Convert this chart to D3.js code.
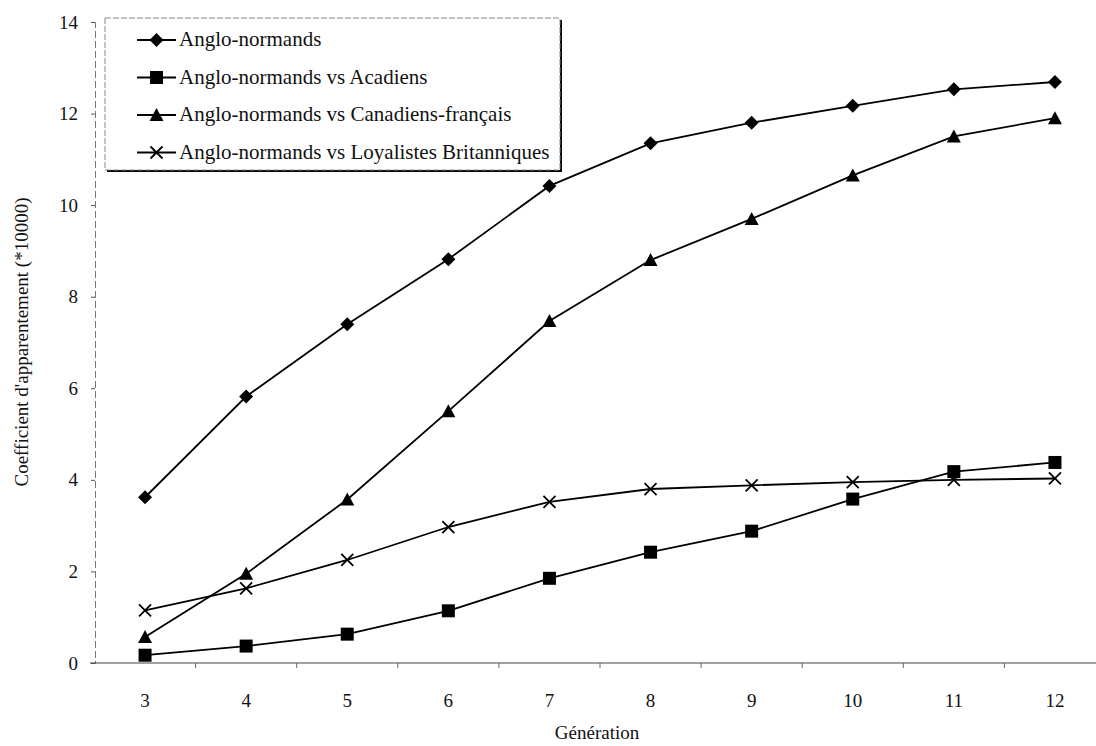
<!DOCTYPE html>
<html>
<head>
<meta charset="utf-8">
<script src="https://cdn.jsdelivr.net/npm/d3@7/dist/d3.min.js"></script>
<style>
  html, body { margin: 0; padding: 0; background: #fff; }
  svg { display: block; }
</style>
</head>
<body>
<svg id="chart" width="1096" height="746"></svg>
<script>
// Generations on the x axis
const generations = [3, 4, 5, 6, 7, 8, 9, 10, 11, 12];

// Kinship coefficient (*10000) per generation for each comparison
const angloNormands        = [3.62, 5.82, 7.40, 8.82, 10.42, 11.35, 11.80, 12.17, 12.53, 12.69];
const vsAcadiens           = [0.17, 0.37, 0.63, 1.14, 1.85, 2.42, 2.88, 3.58, 4.18, 4.38];
const vsCanadiensFrancais  = [0.57, 1.95, 3.57, 5.50, 7.47, 8.80, 9.70, 10.65, 11.50, 11.90];
const vsLoyalistes         = [1.15, 1.63, 2.25, 2.97, 3.52, 3.80, 3.88, 3.95, 4.00, 4.03];

const seriesNames = [
  "Anglo-normands",
  "Anglo-normands vs Acadiens",
  "Anglo-normands vs Canadiens-français",
  "Anglo-normands vs Loyalistes Britanniques"
];
const markerKinds = ["diamond", "square", "triangle", "cross"];
const yTicks = [0, 2, 4, 6, 8, 10, 12, 14];

const FONT = "'Liberation Serif', 'Times New Roman', Times, 'DejaVu Serif', serif";

const series = [angloNormands, vsAcadiens, vsCanadiensFrancais, vsLoyalistes].map((vals, i) => ({
  name: seriesNames[i],
  marker: markerKinds[i],
  values: generations.map((g, j) => ({ g, v: vals[j] }))
}));

const svg = d3.select("#chart");

const x = d3.scaleBand().domain(generations).range([94.5, 1105.5]);
const cx = g => x(g) + x.bandwidth() / 2;
const y = d3.scaleLinear().domain([0, 14]).range([663, 22]);

// Y axis
const yAxis = svg.append("g").attr("transform", "translate(95,0)")
  .call(d3.axisLeft(y).tickValues(yTicks).tickSize(4).tickPadding(13).tickFormat(d3.format("d")));
yAxis.attr("font-family", FONT);
yAxis.select(".domain").attr("stroke", "#777").attr("stroke-dasharray", "7,3");
yAxis.selectAll(".tick line").attr("stroke", "#555");
yAxis.selectAll(".tick text").attr("font-size", 19).attr("fill", "#111")
  .style("font-family", FONT);

// X axis: labels centred in each band, ticks on band boundaries
svg.append("line").attr("x1", 90).attr("x2", 1096).attr("y1", y(0)).attr("y2", y(0))
  .attr("stroke", "#444").attr("stroke-width", 1.2);
svg.append("g").selectAll("line").data(generations.slice(1)).join("line")
  .attr("x1", d => x(d)).attr("x2", d => x(d))
  .attr("y1", y(0)).attr("y2", y(0) + 5)
  .attr("stroke", "#666");
svg.append("g").selectAll("text").data(generations).join("text")
  .attr("x", d => cx(d)).attr("y", y(0) + 44)
  .attr("text-anchor", "middle").attr("font-size", 19).attr("fill", "#111")
  .style("font-family", FONT)
  .text(d => d);

// Axis titles
svg.append("text").attr("x", 597).attr("y", 739).attr("text-anchor", "middle")
  .attr("font-size", 19).attr("fill", "#111").style("font-family", FONT).text("Génération");
svg.append("text").attr("transform", "translate(28,342) rotate(-90)")
  .attr("text-anchor", "middle").attr("font-size", 19).attr("fill", "#111")
  .style("font-family", FONT)
  .text("Coefficient d'apparentement (*10000)");

// Marker shapes
function drawMarker(sel, kind) {
  if (kind === "diamond") {
    sel.append("path").attr("d", "M0,-7L7,0L0,7L-7,0Z").attr("fill", "#000");
  } else if (kind === "square") {
    sel.append("rect").attr("x", -6.5).attr("y", -6.5).attr("width", 13).attr("height", 13).attr("fill", "#000");
  } else if (kind === "triangle") {
    sel.append("path").attr("d", "M0,-7L7,6L-7,6Z").attr("fill", "#000");
  } else {
    sel.append("path").attr("d", "M-6,-6L6,6M-6,6L6,-6")
      .attr("stroke", "#000").attr("stroke-width", 1.8).attr("fill", "none");
  }
}

const line = d3.line().x(d => cx(d.g)).y(d => y(d.v));

const plot = svg.append("g");
series.forEach(s => {
  plot.append("path").datum(s.values).attr("d", line)
    .attr("fill", "none").attr("stroke", "#000").attr("stroke-width", 1.8);
  plot.append("g").selectAll("g").data(s.values).join("g")
    .attr("transform", d => `translate(${cx(d.g)},${y(d.v)})`)
    .each(function () { drawMarker(d3.select(this), s.marker); });
});

// Legend
const legend = svg.append("g");
const lx = 105, ly = 18, lw = 455, lh = 152;
legend.append("rect").attr("x", lx + 2).attr("y", ly + 2).attr("width", lw).attr("height", lh).attr("fill", "#000");
legend.append("rect").attr("x", lx).attr("y", ly).attr("width", lw).attr("height", lh)
  .attr("fill", "#fff").attr("stroke", "#888").attr("stroke-width", 1).attr("stroke-dasharray", "6,2");
series.forEach((s, i) => {
  const yy = ly + 22 + i * 37.5;
  legend.append("line").attr("x1", 137).attr("x2", 176).attr("y1", yy).attr("y2", yy)
    .attr("stroke", "#000").attr("stroke-width", 1.8);
  const m = legend.append("g").attr("transform", `translate(156.5,${yy})`);
  drawMarker(m, s.marker);
  legend.append("text").attr("x", 179).attr("y", yy + 6).attr("font-size", 21).attr("fill", "#111")
    .style("font-family", FONT).text(s.name);
});
</script>
</body>
</html>
